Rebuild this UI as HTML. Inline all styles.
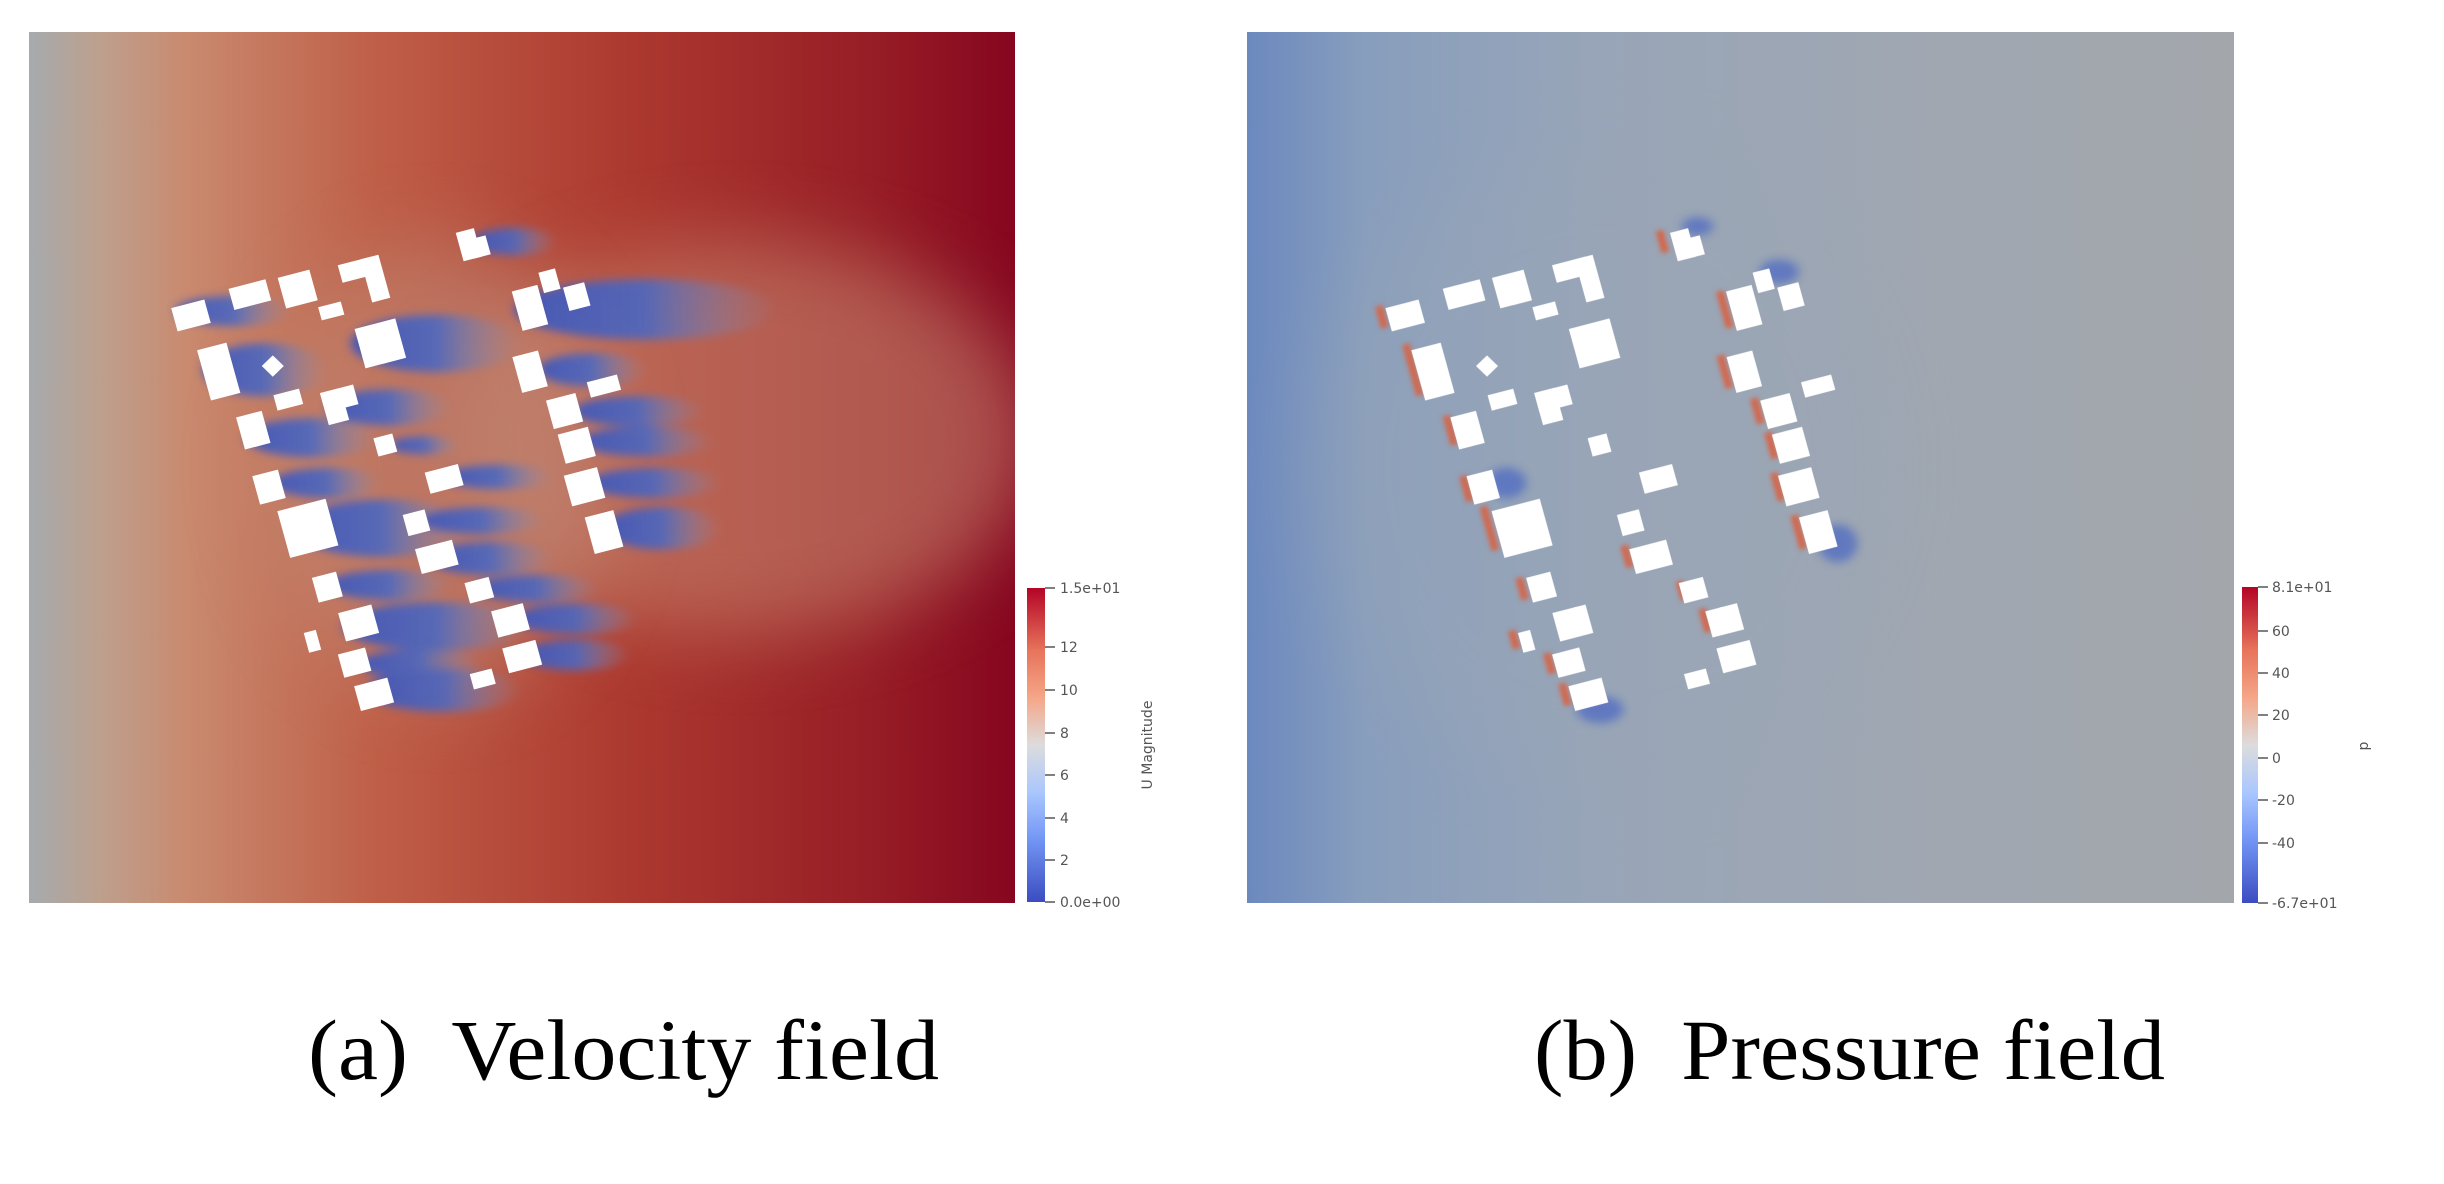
<!DOCTYPE html>
<html><head><meta charset="utf-8"><style>
html,body{margin:0;padding:0;background:#fff;}
svg{display:block;}
</style></head><body>
<svg width="2444" height="1184" viewBox="0 0 2444 1184" xmlns="http://www.w3.org/2000/svg">
<defs>
<linearGradient id="vbg" x1="0" x2="1" y1="0" y2="0">
<stop offset="0" stop-color="#a6aaad"/>
<stop offset="0.07" stop-color="#bda08e"/>
<stop offset="0.16" stop-color="#c98a6f"/>
<stop offset="0.35" stop-color="#bf5f48"/>
<stop offset="0.6" stop-color="#ad3a30"/>
<stop offset="0.85" stop-color="#971e26"/>
<stop offset="1" stop-color="#86061f"/>
</linearGradient>
<linearGradient id="pbg" x1="0" x2="1" y1="0" y2="0">
<stop offset="0" stop-color="#6c89bf"/>
<stop offset="0.12" stop-color="#889ebd"/>
<stop offset="0.35" stop-color="#98a5b8"/>
<stop offset="0.7" stop-color="#a0a7b1"/>
<stop offset="1" stop-color="#a3a7ac"/>
</linearGradient>
<linearGradient id="wk" x1="0" x2="1" y1="0" y2="0">
<stop offset="0" stop-color="#3a55bd"/>
<stop offset="0.5" stop-color="#4d68c0"/>
<stop offset="1" stop-color="#8a97b8" stop-opacity="0"/>
</linearGradient>
<linearGradient id="cw" x1="0" x2="0" y1="0" y2="1">
<stop offset="0" stop-color="#b40426"/>
<stop offset="0.2" stop-color="#e7745b"/>
<stop offset="0.35" stop-color="#f5a688"/>
<stop offset="0.5" stop-color="#dddcdc"/>
<stop offset="0.65" stop-color="#aac7fd"/>
<stop offset="0.8" stop-color="#7396f5"/>
<stop offset="1" stop-color="#3b4cc0"/>
</linearGradient>
<filter id="b8" x="-50%" y="-50%" width="200%" height="200%"><feGaussianBlur stdDeviation="6"/></filter>
<filter id="b20" x="-50%" y="-50%" width="200%" height="200%"><feGaussianBlur stdDeviation="50"/></filter>
<filter id="b4" x="-50%" y="-50%" width="200%" height="200%"><feGaussianBlur stdDeviation="3"/></filter>
<clipPath id="cl"><rect x="29" y="32" width="986" height="871"/></clipPath>
<clipPath id="cr"><rect x="1247" y="32" width="987" height="871"/></clipPath>

<g id="bld" fill="#fff">
<g transform="rotate(-15 245 418)"><rect x="223" y="402" width="44" height="32"/></g>
<g transform="rotate(-15 320 390)"><rect x="296" y="376" width="49" height="29"/></g>
<g transform="rotate(-15 382 383)"><rect x="361" y="362" width="42" height="42"/></g>
<g transform="rotate(-15 468 365)"><rect x="438" y="343" width="44" height="24"/><rect x="468" y="343" width="24" height="59"/></g>
<g transform="rotate(-15 608 322)"><rect x="589" y="303" width="24" height="39"/><rect x="603" y="316" width="22" height="26"/></g>
<g transform="rotate(-15 425 412)"><rect x="410" y="403" width="30" height="18"/></g>
<g transform="rotate(-15 488 455)"><rect x="461" y="428" width="54" height="54"/></g>
<g transform="rotate(-15 280 492)"><rect x="261" y="458" width="39" height="69"/></g>
<g transform="rotate(45 350 485)"><rect x="340" y="475" width="20" height="20"/></g>
<g transform="rotate(-15 370 530)"><rect x="353" y="519" width="34" height="21"/></g>
<g transform="rotate(-15 435 535)"><rect x="415" y="515" width="27" height="44"/><rect x="415" y="515" width="44" height="27"/></g>
<g transform="rotate(-15 325 570)"><rect x="308" y="548" width="34" height="44"/></g>
<g transform="rotate(-15 495 590)"><rect x="482" y="577" width="25" height="25"/></g>
<g transform="rotate(-15 345 645)"><rect x="328" y="626" width="34" height="39"/></g>
<g transform="rotate(-15 570 635)"><rect x="548" y="620" width="44" height="29"/></g>
<g transform="rotate(-15 395 700)"><rect x="363" y="668" width="64" height="64"/></g>
<g transform="rotate(-15 535 693)"><rect x="520" y="678" width="29" height="29"/></g>
<g transform="rotate(-15 560 738)"><rect x="536" y="721" width="49" height="34"/></g>
<g transform="rotate(-15 420 778)"><rect x="404" y="761" width="32" height="34"/></g>
<g transform="rotate(-15 615 782)"><rect x="599" y="768" width="32" height="28"/></g>
<g transform="rotate(-15 460 825)"><rect x="438" y="806" width="44" height="39"/></g>
<g transform="rotate(-15 402 850)"><rect x="393" y="836" width="16" height="27"/></g>
<g transform="rotate(-15 655 822)"><rect x="634" y="804" width="42" height="36"/></g>
<g transform="rotate(-15 455 878)"><rect x="437" y="862" width="36" height="32"/></g>
<g transform="rotate(-15 670 870)"><rect x="648" y="853" width="44" height="34"/></g>
<g transform="rotate(-15 480 920)"><rect x="458" y="903" width="44" height="34"/></g>
<g transform="rotate(-15 620 900)"><rect x="605" y="889" width="29" height="21"/></g>
<g transform="rotate(-15 680 408)"><rect x="663" y="381" width="34" height="54"/></g>
<g transform="rotate(-15 705 372)"><rect x="694" y="358" width="22" height="28"/></g>
<g transform="rotate(-15 740 393)"><rect x="726" y="377" width="28" height="32"/></g>
<g transform="rotate(-15 680 492)"><rect x="663" y="468" width="34" height="49"/></g>
<g transform="rotate(-15 725 545)"><rect x="705" y="525" width="39" height="39"/></g>
<g transform="rotate(-15 775 512)"><rect x="755" y="501" width="40" height="21"/></g>
<g transform="rotate(-15 740 590)"><rect x="720" y="570" width="40" height="40"/></g>
<g transform="rotate(-15 750 645)"><rect x="728" y="624" width="44" height="42"/></g>
<g transform="rotate(-15 775 705)"><rect x="756" y="680" width="38" height="50"/></g>
</g>
</defs>

<!-- ===== Velocity field ===== -->
<g clip-path="url(#cl)">
<rect x="29" y="32" width="986" height="871" fill="url(#vbg)"/>
<g transform="scale(0.7794 0.7547)">
 <ellipse cx="950" cy="580" rx="380" ry="260" fill="#c88a72" opacity="0.55" filter="url(#b20)"/>
 <ellipse cx="560" cy="620" rx="220" ry="300" fill="#bf8f7c" opacity="0.5" filter="url(#b20)"/>
 <g fill="url(#wk)" filter="url(#b8)" opacity="0.9">
  <ellipse cx="300" cy="412" rx="75" ry="20"/>
  <ellipse cx="560" cy="455" rx="110" ry="38"/>
  <ellipse cx="340" cy="490" rx="80" ry="35"/>
  <ellipse cx="830" cy="410" rx="170" ry="40"/>
  <ellipse cx="500" cy="540" rx="80" ry="24"/>
  <ellipse cx="400" cy="580" rx="85" ry="26"/>
  <ellipse cx="545" cy="590" rx="45" ry="12"/>
  <ellipse cx="420" cy="640" rx="70" ry="20"/>
  <ellipse cx="640" cy="632" rx="70" ry="16"/>
  <ellipse cx="490" cy="700" rx="110" ry="38"/>
  <ellipse cx="620" cy="690" rx="80" ry="18"/>
  <ellipse cx="630" cy="740" rx="80" ry="22"/>
  <ellipse cx="500" cy="775" rx="80" ry="20"/>
  <ellipse cx="690" cy="780" rx="80" ry="18"/>
  <ellipse cx="560" cy="830" rx="120" ry="32"/>
  <ellipse cx="740" cy="820" rx="80" ry="20"/>
  <ellipse cx="540" cy="880" rx="80" ry="20"/>
  <ellipse cx="740" cy="868" rx="70" ry="20"/>
  <ellipse cx="570" cy="915" rx="100" ry="28"/>
  <ellipse cx="660" cy="320" rx="55" ry="18"/>
  <ellipse cx="760" cy="490" rx="70" ry="22"/>
  <ellipse cx="820" cy="545" rx="85" ry="20"/>
  <ellipse cx="830" cy="585" rx="85" ry="20"/>
  <ellipse cx="840" cy="640" rx="85" ry="20"/>
  <ellipse cx="850" cy="700" rx="75" ry="28"/>
 </g>
 <use href="#bld"/>
</g>
</g>

<!-- ===== Pressure field ===== -->
<g clip-path="url(#cr)">
<rect x="1247" y="32" width="987" height="871" fill="url(#pbg)"/>
<g transform="translate(1214.2 0) scale(0.7794 0.7547)">
 <ellipse cx="500" cy="620" rx="380" ry="420" fill="#9aa6b6" opacity="0.35" filter="url(#b20)"/>
 <g fill="#d2684d" filter="url(#b4)">
  <rect x="210" y="405" width="10" height="30" transform="rotate(-15 215 420)"/>
  <rect x="250" y="455" width="10" height="70" transform="rotate(-15 255 490)"/>
  <rect x="298" y="550" width="10" height="40" transform="rotate(-15 303 570)"/>
  <rect x="318" y="630" width="10" height="35" transform="rotate(-15 323 645)"/>
  <rect x="348" y="670" width="10" height="60" transform="rotate(-15 353 700)"/>
  <rect x="390" y="765" width="10" height="30" transform="rotate(-15 395 780)"/>
  <rect x="380" y="835" width="10" height="25" transform="rotate(-15 385 848)"/>
  <rect x="425" y="865" width="10" height="28" transform="rotate(-15 430 878)"/>
  <rect x="445" y="905" width="10" height="30" transform="rotate(-15 450 920)"/>
  <rect x="570" y="305" width="10" height="30" transform="rotate(-15 575 320)"/>
  <rect x="650" y="385" width="10" height="50" transform="rotate(-15 655 410)"/>
  <rect x="650" y="470" width="10" height="45" transform="rotate(-15 655 492)"/>
  <rect x="692" y="527" width="10" height="35" transform="rotate(-15 697 545)"/>
  <rect x="710" y="572" width="10" height="36" transform="rotate(-15 715 590)"/>
  <rect x="718" y="626" width="10" height="38" transform="rotate(-15 723 645)"/>
  <rect x="745" y="682" width="10" height="46" transform="rotate(-15 750 705)"/>
  <rect x="525" y="722" width="10" height="30" transform="rotate(-15 530 738)"/>
  <rect x="595" y="770" width="10" height="25" transform="rotate(-15 600 782)"/>
  <rect x="625" y="806" width="10" height="32" transform="rotate(-15 630 822)"/>
 </g>
 <g fill="#4a66c4" filter="url(#b8)" opacity="0.7">
  <ellipse cx="495" cy="940" rx="30" ry="18"/>
  <ellipse cx="800" cy="720" rx="25" ry="25"/>
  <ellipse cx="725" cy="360" rx="25" ry="16"/>
  <ellipse cx="620" cy="300" rx="20" ry="12"/>
  <ellipse cx="375" cy="640" rx="25" ry="20"/>
 </g>
 <use href="#bld"/>
</g>
</g>

<!-- ===== Velocity colorbar ===== -->
<rect x="1027" y="588" width="18" height="314" fill="url(#cw)"/>
<g stroke="#555" stroke-width="1.5">
<line x1="1045" y1="588" x2="1055" y2="588"/><line x1="1045" y1="647" x2="1055" y2="647"/>
<line x1="1045" y1="690" x2="1055" y2="690"/><line x1="1045" y1="733" x2="1055" y2="733"/>
<line x1="1045" y1="775" x2="1055" y2="775"/><line x1="1045" y1="818" x2="1055" y2="818"/>
<line x1="1045" y1="860" x2="1055" y2="860"/><line x1="1045" y1="902" x2="1055" y2="902"/>
</g>
<g font-family="DejaVu Sans, sans-serif" font-size="14" fill="#555">
<text x="1060" y="593">1.5e+01</text><text x="1060" y="652">12</text><text x="1060" y="695">10</text>
<text x="1060" y="738">8</text><text x="1060" y="780">6</text><text x="1060" y="823">4</text>
<text x="1060" y="865">2</text><text x="1060" y="907">0.0e+00</text>
<text transform="translate(1152 745) rotate(-90)" text-anchor="middle">U Magnitude</text>
</g>

<!-- ===== Pressure colorbar ===== -->
<rect x="2242" y="587" width="16" height="316" fill="url(#cw)"/>
<g stroke="#555" stroke-width="1.5">
<line x1="2258" y1="587" x2="2268" y2="587"/><line x1="2258" y1="631" x2="2268" y2="631"/>
<line x1="2258" y1="673" x2="2268" y2="673"/><line x1="2258" y1="715" x2="2268" y2="715"/>
<line x1="2258" y1="758" x2="2268" y2="758"/><line x1="2258" y1="800" x2="2268" y2="800"/>
<line x1="2258" y1="843" x2="2268" y2="843"/><line x1="2258" y1="903" x2="2268" y2="903"/>
</g>
<g font-family="DejaVu Sans, sans-serif" font-size="14" fill="#555">
<text x="2272" y="592">8.1e+01</text><text x="2272" y="636">60</text><text x="2272" y="678">40</text>
<text x="2272" y="720">20</text><text x="2272" y="763">0</text><text x="2272" y="805">-20</text>
<text x="2272" y="848">-40</text><text x="2272" y="908">-6.7e+01</text>
<text transform="translate(2368 746) rotate(-90)" text-anchor="middle">p</text>
</g>

<!-- ===== Captions ===== -->
<g font-family="Liberation Serif, serif" font-size="86" fill="#000">
<text x="308" y="1079" textLength="631" lengthAdjust="spacingAndGlyphs" xml:space="preserve">(a)  Velocity field</text>
<text x="1534" y="1079" textLength="631" lengthAdjust="spacingAndGlyphs" xml:space="preserve">(b)  Pressure field</text>
</g>
</svg>
</body></html>
